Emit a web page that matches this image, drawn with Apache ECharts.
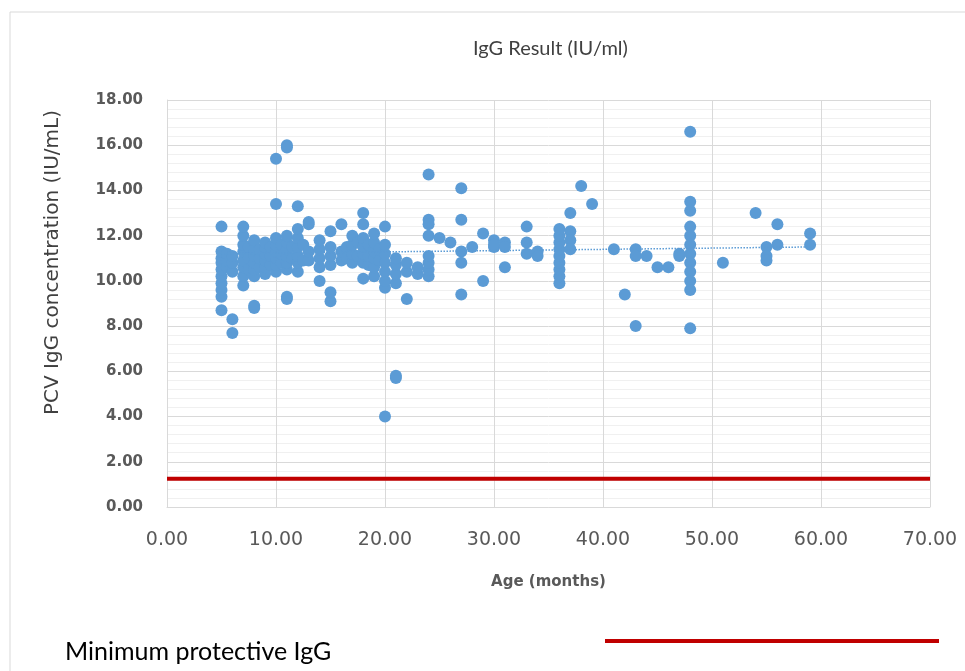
<!DOCTYPE html>
<html>
<head>
<meta charset="utf-8">
<title>IgG Result</title>
<script src="https://cdn.jsdelivr.net/npm/echarts@6/dist/echarts.min.js"></script>
<style>
  html, body { margin: 0; padding: 0; background: #fff; }
  #chart { width: 965px; height: 671px; }
</style>
</head>
<body>
<div id="chart"></div>
<script>
// age (months) and IgG value
var ageMonths = [
  5,5,5,5,5,5,5,5,5,5, 5.5,5.5,5.5,
  6,6,6,6,6,
  7,7,7,7,7,7,7,7, 7.5,7.5,7.5,
  8,8,8,8,8,8,8,8, 8.5,8.5,8.5,
  9,9,9,9,9,9, 9.5,9.5,9.5,
  10,10,10,10,10,10,10,10, 10.5,10.5,10.5,
  11,11,11,11,11,11,11,11,11,11, 11.5,11.5,
  12,12,12,12,12,12,12, 12.5,12.5,
  13,13,13,13,
  14,14,14,14,14,
  15,15,15,15,15,15,
  16,16,16, 16.5,16.5,
  17,17,17,17, 17.5,17.5,
  18,18,18,18,18,18,18, 18.5,18.5,18.5,
  19,19,19,19,19,19, 19.5,19.5,
  20,20,20,20,20,20,20,20,
  21,21,21,21,21,21,
  22,22,22,
  23,23,
  24,24,24,24,24,24,24,24,
  25,26,
  27,27,27,27,27,
  28,29,29,
  30,30,30,
  31,31,31,
  33,33,33,
  34,34,
  36,36,36,36,36,36,36,36,36,
  37,37,37,37,
  38,39,41,42,
  43,43,43,
  44,45,46,47,47,
  48,48,48,48,48,48,48,48,48,48,48,48,
  51,54,
  55,55,55,
  56,56,
  59,59
];
var iggValues = [
  8.7,9.3,9.6,9.9,10.2,10.5,10.8,11.0,11.3,12.4, 10.6,10.9,11.2,
  7.7,8.3,10.4,10.8,11.1,
  9.8,10.2,10.6,10.9,11.3,11.6,12.0,12.4, 10.5,11.0,11.5,
  8.8,8.9,10.2,10.5,10.8,11.1,11.4,11.8, 10.6,11.0,11.4,
  10.3,10.6,10.9,11.2,11.5,11.7, 10.7,11.1,11.5,
  15.4,13.4,10.4,10.7,11.0,11.3,11.6,11.9, 10.8,11.2,11.6,
  16.0,15.9,9.2,9.3,10.5,10.8,11.1,11.4,11.7,12.0, 11.0,11.5,
  13.3,10.4,10.8,11.1,11.5,11.9,12.3, 10.9,11.6,
  12.5,12.6,10.9,11.3,
  10.0,10.6,11.0,11.4,11.8,
  9.1,9.5,10.7,11.1,11.5,12.2,
  10.9,11.3,12.5, 11.0,11.5,
  10.8,11.2,11.6,12.0, 11.1,11.7,
  13.0,12.5,10.1,10.8,11.2,11.5,11.9, 10.7,11.1,11.6,
  10.2,10.6,11.0,11.3,11.7,12.1, 10.9,11.4,
  4.0,9.7,10.0,10.4,10.8,11.2,11.6,12.4,
  5.7,5.8,9.9,10.3,10.7,11.0,
  9.2,10.4,10.8,
  10.3,10.6,
  14.7,12.7,12.5,12.0,10.2,10.5,10.8,11.1,
  11.9,11.7,
  14.1,12.7,11.3,10.8,9.4,
  11.5,12.1,10.0,
  11.5,11.8,11.6,
  11.7,11.5,10.6,
  12.4,11.7,11.2,
  11.3,11.1,
  9.9,10.2,10.5,10.8,11.1,11.4,11.7,12.0,12.3,
  13.0,12.2,11.8,11.4,
  14.2,13.4,11.4,9.4,
  8.0,11.4,11.1,
  11.1,10.6,10.6,11.1,11.2,
  16.6,13.5,13.1,12.4,12.0,11.6,11.2,10.8,10.4,10.0,9.6,7.9,
  10.8,13.0,
  11.5,11.1,10.9,
  12.5,11.6,
  12.1,11.6
];
// linear trend end points
var trendAges = [5, 59];
var trendValues = [11.2, 11.5];
// minimum protective level
var minProtective = 1.25;
var xTicks = [0, 70, 10];
var yTicks = [0, 18, 2];

var points = ageMonths.map(function (a, i) { return [a, iggValues[i]]; });
var trend = trendAges.map(function (a, i) { return [a, trendValues[i]]; });

var chart = echarts.init(document.getElementById('chart'));
var font = 'Lato, "Open Sans", sans-serif';
var wide = '"DejaVu Sans", sans-serif';

var option = {
  animation: false,
  textStyle: { fontFamily: font },
  graphic: [{
    type: 'rect',
    shape: { x: 10, y: 12, width: 990, height: 700 },
    style: { fill: 'none', stroke: '#d9d9d9', lineWidth: 1 },
    silent: true
  }],
  title: [{
    text: 'IgG Result (IU/ml)',
    left: 468,
    top: 34,
    textStyle: { fontSize: 20, fontWeight: 'normal', color: '#404040', fontFamily: font }
  }, {
    text: 'Minimum protective IgG',
    left: 60,
    top: 634,
    textStyle: { fontSize: 25, fontWeight: 'normal', color: '#000', fontFamily: font }
  }],
  legend: {
    data: ['Minimum protective IgG'],
    left: 600,
    top: 634,
    icon: 'rect',
    itemWidth: 334,
    itemHeight: 4,
    formatter: function () { return ''; }
  },
  grid: { left: 167, right: 35, top: 100, bottom: 164 },
  xAxis: {
    type: 'value',
    min: xTicks[0], max: xTicks[1], interval: xTicks[2],
    name: 'Age (months)',
    nameLocation: 'middle',
    nameGap: 68,
    nameTextStyle: { fontSize: 15, fontWeight: 'bold', color: '#595959', fontFamily: wide },
    axisLine: { show: true, lineStyle: { color: '#d9d9d9' } },
    axisTick: { show: false },
    axisLabel: {
      margin: 24, fontSize: 19, color: '#595959', fontFamily: wide,
      formatter: function (v) { return v.toFixed(2); }
    },
    splitLine: { show: true, lineStyle: { color: '#d9d9d9' } }
  },
  yAxis: {
    type: 'value',
    min: yTicks[0], max: yTicks[1], interval: yTicks[2],
    name: 'PCV IgG concentration (IU/mL)',
    nameLocation: 'middle',
    nameGap: 104,
    nameTextStyle: { fontSize: 20, color: '#404040', fontFamily: wide, padding: [0, 0, 0, 82] },
    axisLine: { show: true, lineStyle: { color: '#d9d9d9' } },
    axisTick: { show: false },
    axisLabel: {
      margin: 24, fontSize: 15, fontWeight: 'bold', color: '#595959', fontFamily: wide,
      formatter: function (v) { return v.toFixed(2); }
    },
    splitLine: { show: true, lineStyle: { color: '#d9d9d9' } },
    minorTick: { show: false, splitNumber: 5 },
    minorSplitLine: { show: true, lineStyle: { color: '#f0f0f0' } }
  },
  series: [
    {
      name: 'IgG',
      type: 'scatter',
      data: points,
      symbol: 'circle',
      symbolSize: 12,
      itemStyle: { color: '#5B9BD5', opacity: 1 },
      z: 3
    },
    {
      name: 'Trend',
      type: 'line',
      data: trend,
      symbol: 'none',
      lineStyle: { color: '#5B9BD5', width: 1.5, type: 'dotted' },
      z: 4
    },
    {
      name: 'Minimum protective IgG',
      type: 'line',
      data: [[xTicks[0], minProtective], [xTicks[1], minProtective]],
      symbol: 'none',
      itemStyle: { color: '#C00000' },
      lineStyle: { color: '#C00000', width: 4 },
      z: 5
    }
  ]
};
chart.setOption(option);
</script>
</body>
</html>
